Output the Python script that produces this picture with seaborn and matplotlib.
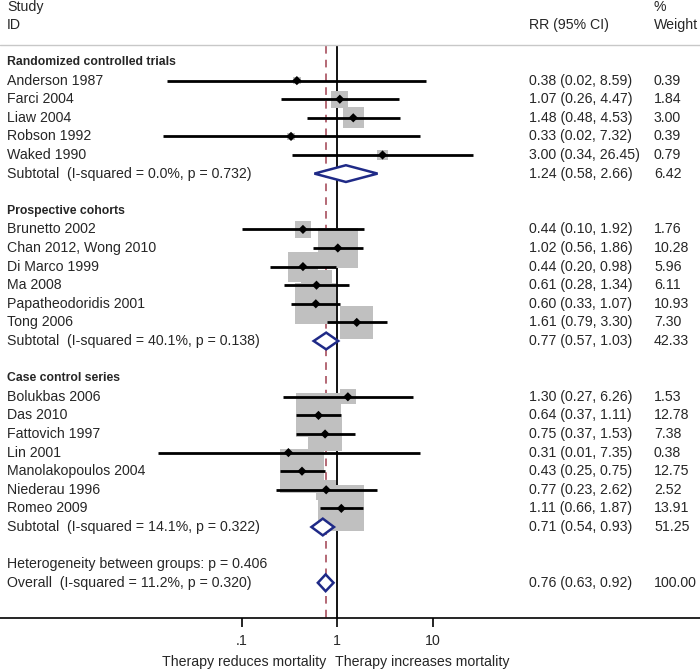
import numpy as np
import pandas as pd
import matplotlib
matplotlib.use("Agg")
import matplotlib.pyplot as plt
from matplotlib.patches import Polygon
import seaborn as sns

# study groups
groups = ["Randomized controlled trials", "Prospective cohorts", "Case control series"]

rct_study = ["Anderson 1987", "Farci 2004", "Liaw 2004", "Robson 1992", "Waked 1990"]
rct_rr = [0.38, 1.07, 1.48, 0.33, 3.00]
rct_lo = [0.0166, 0.26, 0.48, 0.0151, 0.34]
rct_hi = [8.59, 4.47, 4.53, 7.32, 26.45]
rct_w = [0.39, 1.84, 3.00, 0.39, 0.79]

pc_study = ["Brunetto 2002", "Chan 2012, Wong 2010", "Di Marco 1999", "Ma 2008",
            "Papatheodoridis 2001", "Tong 2006"]
pc_rr = [0.44, 1.02, 0.44, 0.61, 0.60, 1.61]
pc_lo = [0.10, 0.56, 0.20, 0.28, 0.33, 0.79]
pc_hi = [1.92, 1.86, 0.98, 1.34, 1.07, 3.30]
pc_w = [1.76, 10.28, 5.96, 6.11, 10.93, 7.30]

cc_study = ["Bolukbas 2006", "Das 2010", "Fattovich 1997", "Lin 2001",
            "Manolakopoulos 2004", "Niederau 1996", "Romeo 2009"]
cc_rr = [1.30, 0.64, 0.75, 0.31, 0.43, 0.77, 1.11]
cc_lo = [0.27, 0.37, 0.37, 0.0134, 0.25, 0.23, 0.66]
cc_hi = [6.26, 1.11, 1.53, 7.35, 0.75, 2.62, 1.87]
cc_w = [1.53, 12.78, 7.38, 0.38, 12.75, 2.52, 13.91]

sub_rr = [1.24, 0.77, 0.71]
sub_lo = [0.58, 0.57, 0.54]
sub_hi = [2.66, 1.03, 0.93]
sub_w = [6.42, 42.33, 51.25]
sub_i2 = ["0.0", "40.1", "14.1"]
sub_p = ["0.732", "0.138", "0.322"]

het_p = "0.406"
overall_rr, overall_lo, overall_hi, overall_w = 0.76, 0.63, 0.92, 100.00
overall_i2, overall_p = "11.2", "0.320"

# build the row table
rows = []
i = 0
for g, st, rr, lo, hi, w in zip(groups,
                                [rct_study, pc_study, cc_study],
                                [rct_rr, pc_rr, cc_rr],
                                [rct_lo, pc_lo, cc_lo],
                                [rct_hi, pc_hi, cc_hi],
                                [rct_w, pc_w, cc_w]):
    rows.append(dict(row=i, kind="header", label=g))
    i += 1
    for s, r, l, h, ww in zip(st, rr, lo, hi, w):
        rows.append(dict(row=i, kind="study", label=s, rr=r, lo=l, hi=h, w=ww))
        i += 1
    k = groups.index(g)
    rows.append(dict(row=i, kind="sub",
                     label=f"Subtotal  (I-squared = {sub_i2[k]}%, p = {sub_p[k]})",
                     rr=sub_rr[k], lo=sub_lo[k], hi=sub_hi[k], w=sub_w[k]))
    i += 2
rows.append(dict(row=i, kind="text", label=f"Heterogeneity between groups: p = {het_p}"))
i += 1
rows.append(dict(row=i, kind="sub",
                 label=f"Overall  (I-squared = {overall_i2}%, p = {overall_p})",
                 rr=overall_rr, lo=overall_lo, hi=overall_hi, w=overall_w))
df = pd.DataFrame(rows)
studies = df[df.kind == "study"]
subs = df[df.kind == "sub"]

# pixel layout helpers
W, H = 700, 670
X1, DEC = 337, 95.5          # pixel of RR=1, pixels per decade
Y0, DY = 62, 18.6            # pixel of first row, row spacing


def prow(py):
    return (py - Y0) / DY


sns.set_style("white")
plt.rcParams["font.family"] = ["Liberation Sans", "DejaVu Sans"]
fs = 10.2

fig = plt.figure(figsize=(7, 6.7), dpi=100)
ax = fig.add_axes([0, 0, 1, 1])
ax.set_xscale("log")
ax.set_xlim(10 ** (-X1 / DEC), 10 ** ((W - X1) / DEC))
ax.set_ylim(prow(H), prow(0))
ax.axis("off")

ty = ax.get_yaxis_transform()
navy = "#1f2a87"

# header
ax.text(7 / W, prow(7), "Study", transform=ty, fontsize=fs, va="center")
ax.text(7 / W, prow(25), "ID", transform=ty, fontsize=fs, va="center")
ax.text(529 / W, prow(25), "RR (95% CI)", transform=ty, fontsize=fs, va="center")
ax.text(654 / W, prow(7), "%", transform=ty, fontsize=fs, va="center")
ax.text(654 / W, prow(25), "Weight", transform=ty, fontsize=fs, va="center")
ax.axhline(prow(45), color="#c8c8c8", lw=1)

# reference lines
top, axis_y = prow(46), prow(618)
ax.vlines(1, top, axis_y, color="black", lw=1.3, zorder=1)
ax.vlines(overall_rr, top, axis_y, color="#a0404f", lw=1.1, ls=(0, (5, 4)), zorder=1)

# weight boxes
sns.scatterplot(data=studies, x="rr", y="row", size="w", sizes=(0, 78.8 * 14),
                size_norm=(0, 14), marker="s", color="#c0c0c0", edgecolor="none",
                legend=False, ax=ax, zorder=2)
# confidence intervals and point estimates
ax.hlines(studies.row, studies.lo, studies.hi, color="black", lw=2, zorder=3)
sns.scatterplot(data=studies, x="rr", y="row", marker="D", s=22, color="black",
                edgecolor="none", legend=False, ax=ax, zorder=4)

# subtotal diamonds
for _, r in subs.iterrows():
    h = 0.45
    pts = [(r.lo, r.row), (r.rr, r.row - h), (r.hi, r.row), (r.rr, r.row + h)]
    ax.add_patch(Polygon(pts, closed=True, facecolor="white", edgecolor=navy,
                         lw=1.8, zorder=5))

# row labels and numbers
for _, r in df.iterrows():
    if r.kind == "header":
        ax.text(7 / W, r.row, r.label, transform=ty, fontsize=fs - 1.4,
                fontweight="bold", va="center")
    else:
        ax.text(7 / W, r.row, r.label, transform=ty, fontsize=fs, va="center")
    if r.kind in ("study", "sub"):
        ax.text(529 / W, r.row, f"{r.rr:.2f} ({r.lo:.2f}, {r.hi:.2f})",
                transform=ty, fontsize=fs, va="center")
        ax.text(654 / W, r.row, f"{r.w:.2f}", transform=ty, fontsize=fs, va="center")

# x axis
ax.axhline(axis_y, color="black", lw=1.2)
for v, lab in zip([0.1, 1, 10], [".1", "1", "10"]):
    ax.vlines(v, axis_y, prow(627), color="black", lw=1.2)
    ax.text(v, prow(641), lab, fontsize=fs, ha="center", va="center")
ax.text(326 / W, prow(662), "Therapy reduces mortality", transform=ty,
        fontsize=fs, ha="right", va="center")
ax.text(335 / W, prow(662), "Therapy increases mortality", transform=ty,
        fontsize=fs, ha="left", va="center")

fig.savefig("out.png", dpi=100)
